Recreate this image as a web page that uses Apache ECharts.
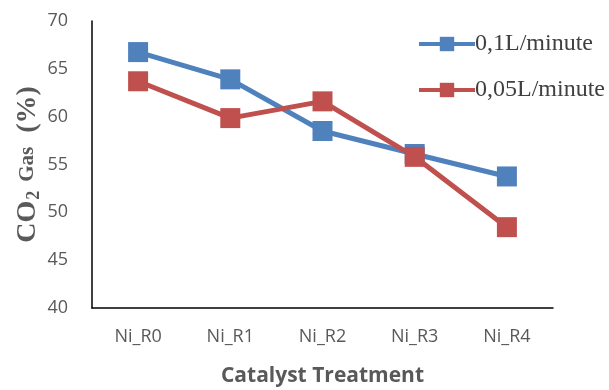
<!DOCTYPE html>
<html>
<head>
<meta charset="utf-8">
<script src="https://cdn.jsdelivr.net/npm/echarts@6/dist/echarts.min.js"></script>
<style>
  html, body { margin: 0; padding: 0; background: #fff; }
  #chart { width: 609px; height: 390px; }
</style>
</head>
<body>
<div id="chart"></div>
<script>
// Catalyst treatments on the x axis
const categories = ['Ni_R0', 'Ni_R1', 'Ni_R2', 'Ni_R3', 'Ni_R4'];
// CO2 gas content (%) for each flow rate
const flow01 = [66.75, 63.9, 58.5, 56.1, 53.75];
const flow005 = [63.7, 59.85, 61.6, 55.8, 48.45];
const seriesNames = ['0,1L/minute', '0,05L/minute'];
const yTicks = { min: 40, max: 70, interval: 5 };

const chart = echarts.init(document.getElementById('chart'));

function lineSeries(name, data, color) {
  return {
    name: name,
    type: 'line',
    data: data,
    symbol: 'rect',
    symbolSize: 20,
    lineStyle: { color: color, width: 5 },
    itemStyle: { color: color },
    emphasis: { disabled: true },
    animation: false
  };
}

chart.setOption({
  animation: false,
  grid: { left: 92, right: 56, top: 21, bottom: 82, outerBoundsMode: 'none' },
  legend: {
    orient: 'vertical',
    left: 412,
    top: 27,
    itemWidth: 56,
    itemHeight: 18,
    itemGap: 22,
    lineStyle: { width: 4 },
    textStyle: { fontFamily: 'Liberation Serif', fontSize: 24, color: '#404040', padding: [0, 0, 0, -5] },
    data: seriesNames
  },
  xAxis: {
    type: 'category',
    data: categories,
    boundaryGap: true,
    axisLine: { lineStyle: { color: '#000', width: 1.5 } },
    axisTick: { show: false },
    axisLabel: { fontFamily: 'Open Sans', fontSize: 18, color: '#595959', margin: 20 },
    name: 'Catalyst Treatment',
    nameLocation: 'middle',
    nameGap: 58,
    nameMoveOverlap: false,
    nameTextStyle: { fontFamily: 'Open Sans', fontSize: 21, fontWeight: 'bold', color: '#595959' }
  },
  yAxis: {
    type: 'value',
    min: yTicks.min,
    max: yTicks.max,
    interval: yTicks.interval,
    axisLine: { show: true, lineStyle: { color: '#000', width: 1.5 } },
    axisTick: { show: false },
    splitLine: { show: false },
    axisLabel: { fontFamily: 'Open Sans', fontSize: 18, color: '#595959', margin: 24 },
    name: '{big|CO}{sub|2}{mid|Gas}{pct|(%)}',
    nameLocation: 'middle',
    nameRotate: 90,
    nameGap: 49,
    nameMoveOverlap: false,
    nameTextStyle: {
      rich: {
        big: { fontFamily: 'Liberation Serif', fontSize: 28, fontWeight: 'bold', color: '#595959' },
        sub: { fontFamily: 'Liberation Serif', fontSize: 18, fontWeight: 'bold', color: '#595959', verticalAlign: 'bottom', padding: [12, 0, 0, 1] },
        mid: { fontFamily: 'Liberation Serif', fontSize: 21, fontWeight: 'bold', color: '#595959', padding: [0, 0, 0, 9] },
        pct: { fontFamily: 'Liberation Serif', fontSize: 28, fontWeight: 'bold', color: '#595959', padding: [0, 0, 0, 14] }
      }
    }
  },
  series: [
    lineSeries(seriesNames[0], flow01, '#4f81bd'),
    lineSeries(seriesNames[1], flow005, '#c0504d')
  ]
});
</script>
</body>
</html>
